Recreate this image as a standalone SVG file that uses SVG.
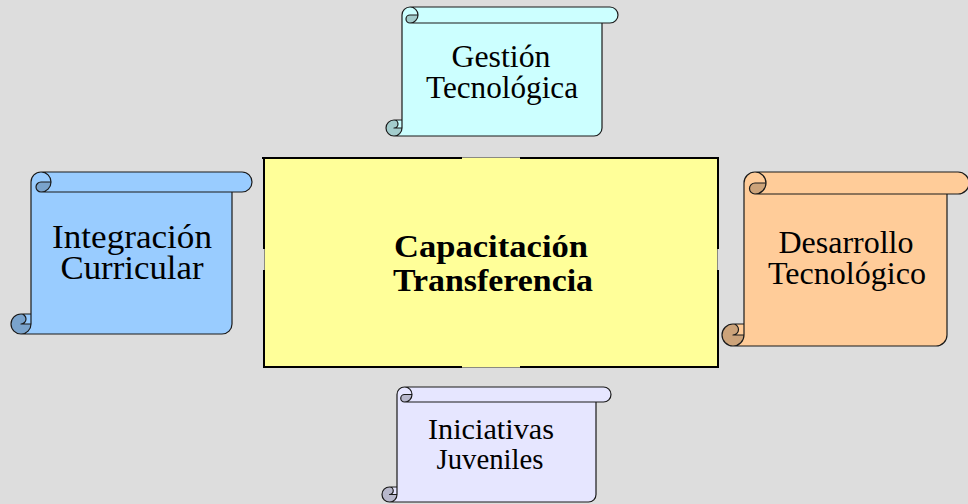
<svg xmlns="http://www.w3.org/2000/svg" width="968" height="504" viewBox="0 0 968 504">
<style>
.s{fill:none;stroke:#1a1a1a;stroke-width:1.2;stroke-linejoin:round}
.t{font-family:"Liberation Serif","Times New Roman",serif;fill:#000;text-anchor:middle}
.b{font-weight:bold}
.edge{stroke:#000;stroke-width:2;fill:none}
.gap{stroke:#8a8a80;stroke-width:1;fill:none}
</style>
<rect width="968" height="504" fill="#DDDDDD"/>
<g id="center">
<rect x="264" y="158" width="454" height="209" fill="#FFFF99"/>
<path class="edge" d="M262,158 H462 M520,158 H719 M718,157 V249 M718,270 V368 M719,367 H520 M462,367 H263 M264,368 V270 M264,249 V157"/>
<text class="t b" x="491" y="257" font-size="32" textLength="194" lengthAdjust="spacingAndGlyphs">Capacitación</text>
<text class="t b" x="493" y="290.5" font-size="32" textLength="200" lengthAdjust="spacingAndGlyphs">Transferencia</text>
</g>
<g id="connectors">
<path class="gap" d="M462,157.5 H520 M462,367.5 H520 M264.5,249 V270 M717.5,249 V270"/>
</g>
<g id="gestion" transform="translate(386,7)">
<path fill="#CCFFFF" d="M8,129 A8,8 0 0 0 16,121 L8,121 A4,4 0 0 1 8,113 L16,113 L16,8 A8,8 0 0 1 24,0 L224,0 A8,8 0 0 1 224,16 L216,16 L216,121 A8,8 0 0 1 208,129 Z M32,8 A8,8 0 0 1 24,16 A4,4 0 0 1 24,8 Z"/>
<path fill="#A3CCCC" d="M32,8 A8,8 0 0 1 24,16 A4,4 0 0 1 24,8 Z M16,121 A8,8 0 1 1 8,113 A4,4 0 0 1 8,121 Z"/>
<path class="s" d="M16,113 L16,8 A8,8 0 0 1 24,0 L224,0 A8,8 0 0 1 224,16 L216,16 L216,121 A8,8 0 0 1 208,129 L8,129 A8,8 0 0 1 8,113 Z M24,0 A8,8 0 0 1 24,16 A4,4 0 0 1 24,8 L32,8 M216,16 L24,16 M8,113 A4,4 0 0 1 8,121 L16,121 M8,129 A8,8 0 0 0 16,121 L16,113"/>
</g>
<text class="t" x="501" y="67" font-size="31" textLength="99" lengthAdjust="spacingAndGlyphs">Gestión</text>
<text class="t" x="502" y="98" font-size="31" textLength="152" lengthAdjust="spacingAndGlyphs">Tecnológica</text>
<g id="integracion" transform="translate(11,172)">
<path fill="#99CCFF" d="M10,162 A10,10 0 0 0 20,152 L10,152 A5,5 0 0 1 10,142 L20,142 L20,10 A10,10 0 0 1 30,0 L231,0 A10,10 0 0 1 231,20 L221,20 L221,152 A10,10 0 0 1 211,162 Z M40,10 A10,10 0 0 1 30,20 A5,5 0 0 1 30,10 Z"/>
<path fill="#7AA3CC" d="M40,10 A10,10 0 0 1 30,20 A5,5 0 0 1 30,10 Z M20,152 A10,10 0 1 1 10,142 A5,5 0 0 1 10,152 Z"/>
<path class="s" d="M20,142 L20,10 A10,10 0 0 1 30,0 L231,0 A10,10 0 0 1 231,20 L221,20 L221,152 A10,10 0 0 1 211,162 L10,162 A10,10 0 0 1 10,142 Z M30,0 A10,10 0 0 1 30,20 A5,5 0 0 1 30,10 L40,10 M221,20 L30,20 M10,142 A5,5 0 0 1 10,152 L20,152 M10,162 A10,10 0 0 0 20,152 L20,142"/>
</g>
<text class="t" x="132" y="248" font-size="33" textLength="160" lengthAdjust="spacingAndGlyphs">Integración</text>
<text class="t" x="132" y="279" font-size="33" textLength="143" lengthAdjust="spacingAndGlyphs">Curricular</text>
<g id="desarrollo" transform="translate(722,172)">
<path fill="#FFCC99" d="M11,174 A11,11 0 0 0 22,163 L11,163 A5.5,5.5 0 0 1 11,152 L22,152 L22,11 A11,11 0 0 1 33,0 L236,0 A11,11 0 0 1 236,22 L225,22 L225,163 A11,11 0 0 1 214,174 Z M44,11 A11,11 0 0 1 33,22 A5.5,5.5 0 0 1 33,11 Z"/>
<path fill="#CCA37A" d="M44,11 A11,11 0 0 1 33,22 A5.5,5.5 0 0 1 33,11 Z M22,163 A11,11 0 1 1 11,152 A5.5,5.5 0 0 1 11,163 Z"/>
<path class="s" d="M22,152 L22,11 A11,11 0 0 1 33,0 L236,0 A11,11 0 0 1 236,22 L225,22 L225,163 A11,11 0 0 1 214,174 L11,174 A11,11 0 0 1 11,152 Z M33,0 A11,11 0 0 1 33,22 A5.5,5.5 0 0 1 33,11 L44,11 M225,22 L33,22 M11,152 A5.5,5.5 0 0 1 11,163 L22,163 M11,174 A11,11 0 0 0 22,163 L22,152"/>
</g>
<text class="t" x="846" y="253" font-size="32" textLength="135" lengthAdjust="spacingAndGlyphs">Desarrollo</text>
<text class="t" x="847" y="284" font-size="32" textLength="158" lengthAdjust="spacingAndGlyphs">Tecnológico</text>
<g id="iniciativas" transform="translate(382,387)">
<path fill="#E6E6FF" d="M7.5,115 A7.5,7.5 0 0 0 15,107.5 L7.5,107.5 A3.75,3.75 0 0 1 7.5,100 L15,100 L15,7.5 A7.5,7.5 0 0 1 22.5,0 L221.5,0 A7.5,7.5 0 0 1 221.5,15 L214,15 L214,107.5 A7.5,7.5 0 0 1 206.5,115 Z M30,7.5 A7.5,7.5 0 0 1 22.5,15 A3.75,3.75 0 0 1 22.5,7.5 Z"/>
<path fill="#B8B8CC" d="M30,7.5 A7.5,7.5 0 0 1 22.5,15 A3.75,3.75 0 0 1 22.5,7.5 Z M15,107.5 A7.5,7.5 0 1 1 7.5,100 A3.75,3.75 0 0 1 7.5,107.5 Z"/>
<path class="s" d="M15,100 L15,7.5 A7.5,7.5 0 0 1 22.5,0 L221.5,0 A7.5,7.5 0 0 1 221.5,15 L214,15 L214,107.5 A7.5,7.5 0 0 1 206.5,115 L7.5,115 A7.5,7.5 0 0 1 7.5,100 Z M22.5,0 A7.5,7.5 0 0 1 22.5,15 A3.75,3.75 0 0 1 22.5,7.5 L30,7.5 M214,15 L22.5,15 M7.5,100 A3.75,3.75 0 0 1 7.5,107.5 L15,107.5 M7.5,115 A7.5,7.5 0 0 0 15,107.5 L15,100"/>
</g>
<text class="t" x="491" y="438.5" font-size="30" textLength="126" lengthAdjust="spacingAndGlyphs">Iniciativas</text>
<text class="t" x="490" y="469" font-size="30" textLength="107" lengthAdjust="spacingAndGlyphs">Juveniles</text>
</svg>
